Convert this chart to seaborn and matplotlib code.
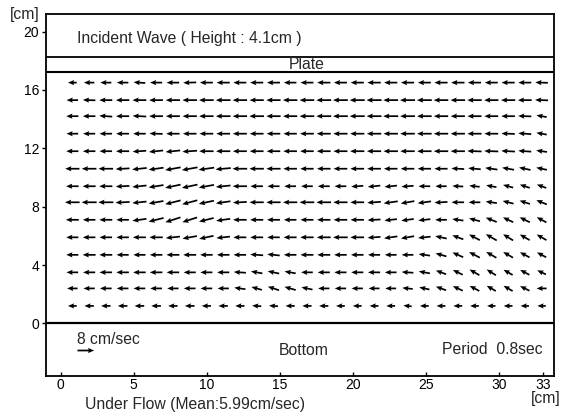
import numpy as np
import matplotlib
matplotlib.use("Agg")
import matplotlib.pyplot as plt
import seaborn as sns

sns.set_style("ticks")
plt.rcParams["font.family"] = ["Liberation Sans", "DejaVu Sans"]

# measurement grid (cm)
x_grid = np.round(np.linspace(0.8, 32.9, 29), 2)
y_grid = [16.5, 15.3, 14.2, 13.0, 11.8, 10.6, 9.4, 8.3, 7.1, 5.9, 4.7, 3.5, 2.4, 1.2]

# flow speed (cm/s), one row per depth, top row first
speed = [
    [4.2, 5.0, 5.3, 5.5, 5.6, 5.8, 6.0, 6.2, 6.2, 6.3, 6.2, 6.3, 6.2, 6.0, 6.2, 6.3, 6.2, 6.3, 6.4, 6.3, 6.3, 6.2, 6.3, 6.4, 6.3, 6.2, 6.3, 6.2, 6.0],
    [5.5, 6.0, 6.2, 6.4, 6.6, 6.6, 6.8, 7.0, 7.0, 7.0, 6.9, 6.8, 6.8, 6.9, 7.0, 7.1, 7.1, 7.2, 7.2, 7.1, 7.2, 7.1, 7.0, 7.0, 6.9, 6.8, 6.8, 6.6, 6.2],
    [5.8, 6.0, 6.2, 6.3, 6.5, 6.6, 6.7, 6.8, 6.9, 7.0, 6.9, 7.0, 6.8, 6.8, 7.0, 7.1, 7.1, 7.2, 7.1, 7.2, 7.1, 7.0, 6.9, 6.8, 6.7, 6.6, 6.5, 6.3, 5.0],
    [5.6, 5.8, 6.0, 6.2, 6.0, 6.3, 6.4, 6.5, 6.6, 6.6, 6.7, 6.6, 6.5, 6.4, 6.6, 6.7, 6.8, 6.8, 6.9, 6.9, 7.0, 7.0, 6.9, 6.8, 6.8, 6.6, 6.4, 6.2, 5.0],
    [5.8, 6.0, 6.0, 6.3, 6.5, 6.8, 7.0, 7.0, 6.9, 6.8, 6.7, 6.6, 6.5, 6.5, 6.5, 6.6, 6.7, 6.8, 6.8, 6.9, 6.9, 6.9, 6.9, 6.8, 6.8, 6.7, 6.5, 6.2, 5.2],
    [6.8, 7.0, 7.0, 6.6, 7.0, 7.2, 7.5, 7.6, 7.5, 7.3, 7.0, 6.9, 6.8, 6.5, 6.4, 6.5, 6.6, 6.6, 6.6, 6.5, 6.5, 6.4, 6.3, 6.1, 6.0, 5.9, 5.8, 5.6, 5.2],
    [6.0, 6.2, 6.3, 6.5, 6.8, 7.2, 7.5, 7.6, 7.4, 7.0, 6.8, 6.0, 5.8, 5.6, 5.6, 5.7, 5.6, 5.8, 6.0, 6.0, 5.8, 5.6, 5.4, 5.2, 5.0, 5.0, 5.0, 5.0, 4.8],
    [7.0, 7.2, 7.2, 6.8, 6.8, 7.2, 7.6, 7.5, 7.4, 7.0, 6.6, 6.8, 6.8, 6.8, 7.0, 7.0, 6.8, 6.6, 6.5, 6.8, 6.6, 6.4, 6.2, 6.0, 5.6, 5.4, 5.4, 5.2, 5.4],
    [6.2, 6.0, 6.2, 6.0, 6.8, 7.4, 7.6, 7.4, 7.2, 6.8, 6.5, 6.3, 6.2, 6.0, 6.2, 6.4, 6.5, 6.4, 6.2, 6.0, 6.0, 5.8, 5.6, 5.4, 5.4, 5.6, 5.4, 5.4, 5.2],
    [5.8, 6.0, 6.0, 6.0, 6.2, 6.4, 6.8, 7.0, 7.0, 6.5, 6.2, 6.2, 6.0, 6.2, 6.4, 6.6, 7.0, 6.6, 6.2, 6.4, 6.4, 6.0, 5.6, 5.6, 5.8, 6.0, 5.6, 5.4, 5.4],
    [5.8, 6.2, 6.2, 5.8, 5.8, 6.0, 6.2, 6.2, 6.0, 6.0, 6.0, 6.2, 6.0, 6.0, 6.2, 6.2, 6.0, 6.0, 5.8, 5.6, 5.6, 5.5, 5.4, 5.6, 5.8, 5.6, 5.4, 5.2, 5.0],
    [5.6, 5.8, 6.0, 6.0, 6.0, 6.0, 6.0, 5.8, 5.8, 5.8, 5.8, 5.6, 5.6, 5.4, 5.6, 5.8, 5.8, 5.8, 5.8, 5.6, 5.6, 5.4, 5.2, 5.2, 5.4, 5.2, 5.0, 5.0, 4.6],
    [5.0, 5.4, 5.6, 5.6, 5.6, 5.6, 5.4, 5.6, 5.6, 5.4, 5.4, 5.2, 5.6, 5.6, 5.4, 5.4, 5.4, 5.4, 5.2, 5.2, 5.0, 5.0, 5.2, 5.2, 5.2, 5.0, 5.0, 5.0, 4.8],
    [4.2, 4.5, 4.5, 4.6, 4.6, 4.6, 4.5, 4.6, 4.4, 4.5, 4.4, 4.4, 4.3, 4.4, 4.4, 4.4, 4.2, 4.2, 4.2, 4.2, 4.0, 4.2, 4.2, 4.2, 4.2, 4.0, 4.2, 4.0, 4.0],
]

# tilt from the onshore (leftward) direction in degrees: + upward, - downward
tilt = [
    [0, 0, 0, 0, 4, 0, 0, -2, 0, 0, 0, 0, 0, 0, 0, 0, 0, 0, 0, 0, 0, 0, 0, 0, 0, 0, 0, 0, 2],
    [0, 2, 0, 0, 0, 0, 0, 0, 0, 0, 0, 0, 0, 0, 0, 0, 0, 0, 0, 0, 0, 0, 0, 0, 0, 0, 0, 0, 2],
    [0, 0, 4, 0, 3, 0, 0, 0, 0, 0, 0, 0, 0, 0, 0, 0, 0, 0, 0, 0, 0, 0, 0, 0, 0, 0, 0, 2, 10],
    [0, 0, 0, 0, 0, 2, 0, 0, 0, 0, 0, 0, 0, 0, 0, 0, 0, 0, 0, 0, 0, 0, 0, 0, 0, 0, 2, 4, 10],
    [0, 0, 0, 0, -4, -6, -6, -4, 0, 0, 0, 0, 0, 0, 0, 0, 0, 0, 0, 0, 0, 0, 0, 0, 2, 2, 3, 4, 8],
    [0, 0, 0, -3, -6, -8, -10, -10, -8, -5, 0, 0, 0, 0, 0, 0, 0, 0, 0, 0, 0, 0, 0, 3, 5, 8, 10, 12, 12],
    [0, 0, 0, -3, -6, -9, -12, -12, -10, -6, 0, 0, 0, 0, 0, 0, 0, -4, -6, -6, -4, 0, 0, 3, 6, 10, 15, 18, 20],
    [0, 0, 0, -3, -6, -10, -14, -15, -12, -8, -3, 0, 0, 0, 0, 0, 0, 0, -4, -8, -10, -8, -3, 0, 0, 8, 14, 18, 22],
    [0, 0, 0, 0, -8, -14, -18, -18, -14, -8, 0, 0, 0, 0, 0, 0, 0, 0, -3, -6, -8, -6, 0, 8, 15, 22, 25, 26, 28],
    [0, 0, 0, 0, 0, 0, -6, -10, -12, -6, 0, 0, 0, 0, 0, 0, 0, 0, -4, -8, -10, -6, 12, 20, 28, 30, 32, 30, 30],
    [0, 0, 0, 0, 0, 0, 0, 0, 0, 0, 0, 4, 6, 0, 0, 0, 0, 0, 0, 0, 0, 8, 16, 24, 28, 30, 30, 28, 28],
    [0, 0, 0, 0, 0, 0, 0, 0, 0, 0, 4, 10, 12, 10, 0, 0, 0, 0, 0, 0, 4, 10, 20, 26, 30, 32, 30, 28, 25],
    [0, 0, 0, 0, 0, 0, 0, 0, 0, 0, 8, 16, 18, 16, 12, 0, 0, 0, 0, 0, 6, 12, 20, 25, 28, 30, 30, 26, 0],
    [0, 0, 0, 0, 0, 0, 0, 0, 0, 0, 0, 4, 4, 0, 0, 0, 0, 0, 0, 0, 6, 0, 0, 0, 0, 0, 0, 0, 0],
]

ref_speed = 8.0          # scale arrow, cm/s
x_ticks = [0, 5, 10, 15, 20, 25, 30, 33]
y_ticks = [0, 4, 8, 12, 16, 20]
plate_bottom, plate_top = 17.2, 18.25

W, H = 563, 412
fig = plt.figure(figsize=(W / 100, H / 100), dpi=100)
ax = fig.add_axes([46 / W, 1 - 376 / H, (554 - 46) / W, (376 - 14) / H])

X, Y = np.meshgrid(x_grid, y_grid)
S = np.array(speed)
A = np.deg2rad(180.0 - np.array(tilt))
U = S * np.cos(A)
V = S * np.sin(A)

qscale = 7.0  # cm/s per cm of plot length
arrow_kw = dict(angles="xy", scale_units="x", scale=qscale, color="black",
                width=0.0034, headwidth=3.0, headlength=3.6, headaxislength=3.2)
ax.quiver(X, Y, U, V, pivot="middle", **arrow_kw)
ax.quiver([1.1], [-1.8], [ref_speed], [0], pivot="tail", **arrow_kw)

for yv, lw in [(0, 1.6), (plate_bottom, 1.5), (plate_top, 1.3)]:
    ax.axhline(yv, color="black", lw=lw)

ax.set_xlim(-1.0, 33.75)
ax.set_ylim(-3.6, 21.2)
ax.set_xticks(x_ticks)
ax.set_yticks(y_ticks)
ax.tick_params(axis="y", direction="out", length=3, width=1, color="black",
               labelsize=10, pad=2, labelcolor="black")
ax.tick_params(axis="x", direction="in", length=3, width=1, color="black",
               labelsize=10, pad=1.5, labelcolor="black")
for sp in ax.spines.values():
    sp.set_color("black")
    sp.set_linewidth(1.3)

fs = 11.3
ax.text(1.15, 19.5, "Incident Wave ( Height : 4.1cm )", fontsize=fs, va="center")
ax.text(16.8, 17.72, "Plate", fontsize=fs, ha="center", va="center")
ax.text(1.15, -1.1, f"{ref_speed:g} cm/sec", fontsize=fs, va="center")
ax.text(16.6, -1.85, "Bottom", fontsize=fs, ha="center", va="center")
ax.text(33.0, -1.8, "Period  0.8sec", fontsize=fs, ha="right", va="center")


def ftext(px, py, s, **kw):
    fig.text(px / W, 1 - py / H, s, fontsize=fs, **kw)


ftext(25, 15, "[cm]", ha="center", va="center")
ftext(546, 399, "[cm]", ha="center", va="center")
ftext(195, 404, "Under Flow (Mean:5.99cm/sec)", ha="center", va="center")

fig.savefig("out.png", dpi=100)
